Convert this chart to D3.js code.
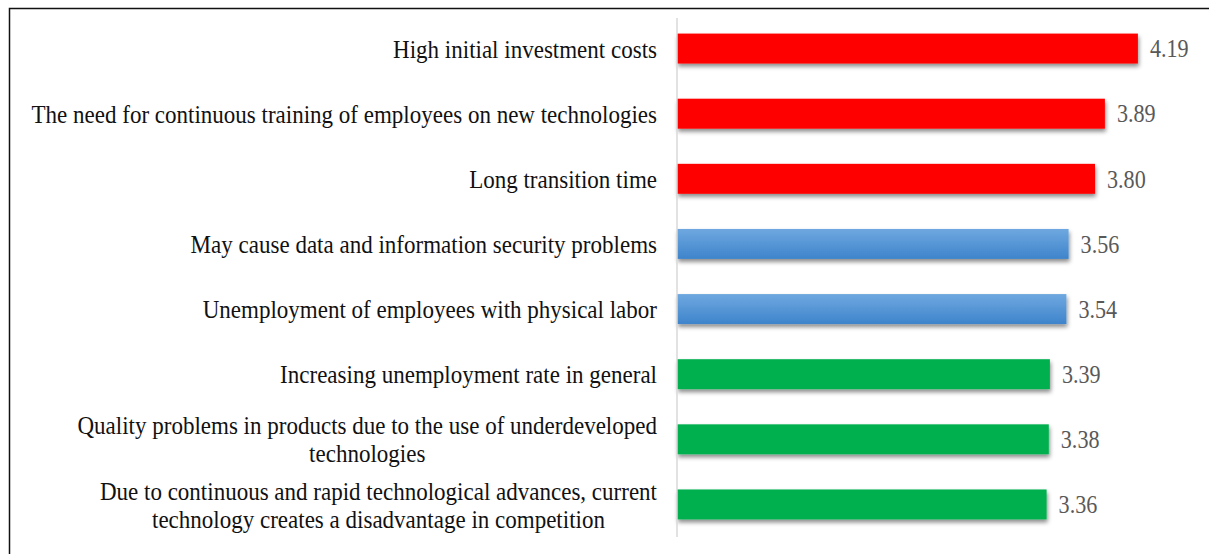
<!DOCTYPE html>
<html>
<head>
  <script src="https://cdnjs.cloudflare.com/ajax/libs/d3/7.8.5/d3.min.js"></script>
  <style>
    body { margin: 0; background: #fff; }
    .lab { font-family: "Liberation Serif", "Times New Roman", serif; font-size: 26px; fill: #111; }
    .val { font-family: "Liberation Serif", "Times New Roman", serif; font-size: 25px; fill: #595959; }
  </style>
</head>
<body>
<script>
// categories top to bottom, lines split where the original wraps
const categories = [
  ["High initial investment costs"],
  ["The need for continuous training of employees on new technologies"],
  ["Long transition time"],
  ["May cause data and information security problems"],
  ["Unemployment of employees with physical labor"],
  ["Increasing unemployment rate in general"],
  ["Quality problems in products due to the use of underdeveloped", "technologies"],
  ["Due to continuous and rapid technological advances, current", "technology creates a disadvantage in competition"]
];
const values = [4.19, 3.89, 3.80, 3.56, 3.54, 3.39, 3.38, 3.36];
const groups = ["high", "high", "high", "mid", "mid", "low", "low", "low"];

const w = 1209, h = 554;
const squish = 0.885; // the source text is horizontally condensed
const svg = d3.select("body").append("svg").attr("width", w).attr("height", h);

const defs = svg.append("defs");
const blue = defs.append("linearGradient").attr("id", "blueGrad")
  .attr("x1", 0).attr("y1", 0).attr("x2", 0).attr("y2", 1);
blue.append("stop").attr("offset", "0%").attr("stop-color", "#6fa8e0");
blue.append("stop").attr("offset", "100%").attr("stop-color", "#3e84cb");
const shadow = defs.append("filter").attr("id", "shadow")
  .attr("x", "-5%").attr("y", "-30%").attr("width", "110%").attr("height", "180%");
shadow.append("feDropShadow").attr("dx", 1).attr("dy", 3).attr("stdDeviation", 2)
  .attr("flood-color", "#000").attr("flood-opacity", 0.45);

const color = d3.scaleOrdinal().domain(["high", "mid", "low"])
  .range(["#ff0000", "url(#blueGrad)", "#00b050"]);

const x0 = 677;
const x = d3.scaleLinear().domain([0, 5]).range([x0, x0 + 550]);
const y = d3.scaleBand().domain(d3.range(categories.length))
  .range([16, 537]).paddingInner(0.54).paddingOuter(0.27);

// frame
svg.append("rect").attr("x", 9.5).attr("y", 8.5).attr("width", w + 10).attr("height", h + 10)
  .attr("fill", "none").attr("stroke", "#111").attr("stroke-width", 1.5);

// bars
svg.selectAll(".bar").data(values).enter().append("rect")
  .attr("class", "bar")
  .attr("x", x(0))
  .attr("y", (d, i) => y(i))
  .attr("width", d => x(d) - x(0))
  .attr("height", y.bandwidth())
  .attr("fill", (d, i) => color(groups[i]))
  .attr("filter", "url(#shadow)");

// vertical axis line
svg.append("line").attr("x1", x0).attr("x2", x0).attr("y1", 18).attr("y2", 537)
  .attr("stroke", "#d9d9d9").attr("stroke-width", 1.5);

// value labels
svg.selectAll(".val").data(values).enter().append("text")
  .attr("class", "val")
  .attr("transform", (d, i) => "translate(" + (x(d) + 12) + "," + (y(i) + y.bandwidth() / 2) + ") scale(" + squish + ",1)")
  .attr("dy", "0.35em")
  .text(d => d.toFixed(2));

// category labels
const right = x0 - 20;
categories.forEach((lines, i) => {
  const cy = y(i) + y.bandwidth() / 2;
  const lh = 28;
  const g = svg.append("g").attr("transform", "translate(" + right + "," + cy + ") scale(" + squish + ",1)");
  const texts = lines.map((s, k) => g.append("text").attr("class", "lab")
    .attr("y", (k - (lines.length - 1) / 2) * lh)
    .attr("dy", "0.35em").text(s));
  const maxW = d3.max(texts, t => t.node().getComputedTextLength());
  texts.forEach(t => t.attr("x", -maxW / 2).attr("text-anchor", "middle"));
});
</script>
</body>
</html>
